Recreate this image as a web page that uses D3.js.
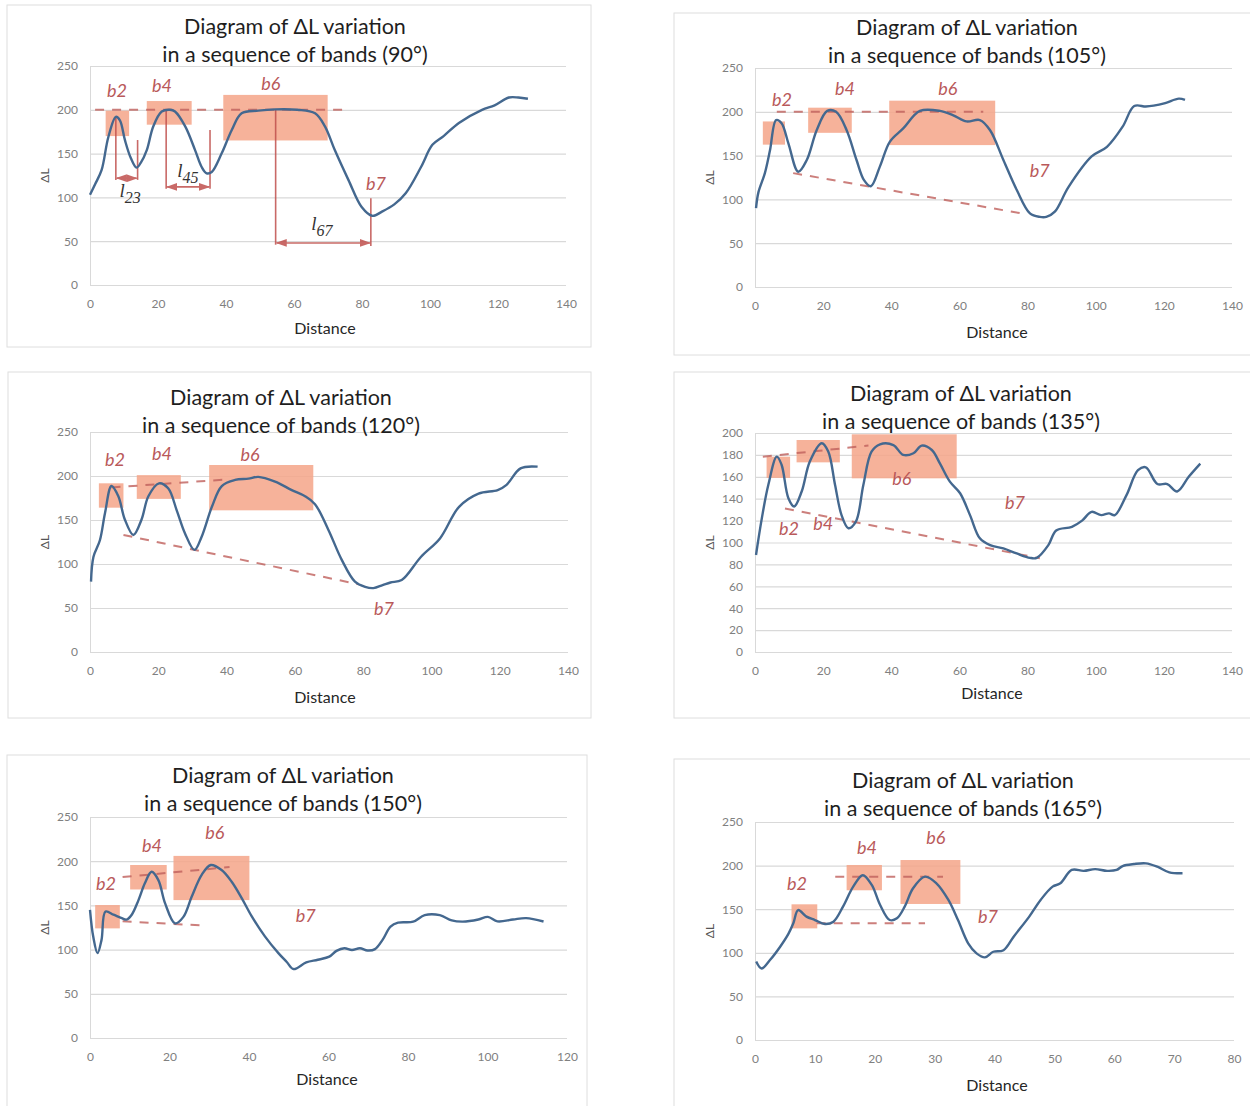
<!DOCTYPE html>
<html><head><meta charset="utf-8">
<script src="https://cdn.jsdelivr.net/npm/d3@7"></script>
<style>body{margin:0;background:#fff}svg{display:block}</style>
</head><body>
<svg id="c" width="1250" height="1106"></svg>
<script>
// ---------- DATA ----------
const angles = [90, 105, 120, 135, 150, 165];
const titleLine1 = "Diagram of ΔL variation";
const titleLine2 = a => `in a sequence of bands (${a}°)`;
const xLabel = "Distance";
const yLabel = "ΔL";

const xTicks140 = [0, 20, 40, 60, 80, 100, 120, 140];
const xTicks120 = [0, 20, 40, 60, 80, 100, 120];
const xTicks80 = [0, 10, 20, 30, 40, 50, 60, 70, 80];
const yTicks250 = [0, 50, 100, 150, 200, 250];
const yTicks200 = [0, 20, 40, 60, 80, 100, 120, 140, 160, 180, 200];

const curve90 = [[0,103],[1.5,115],[3.4,131],[5.4,169],[7.6,192],[8.8,188],[10.3,165],[12,145],[13.7,134],[15,140],[16.7,154],[18.6,181],[21.1,198],[23.5,200],[25,198],[28,181],[30.9,154],[32.8,135],[34.3,127.5],[35.8,129],[38.7,150],[41.7,177],[44.6,196],[49.5,199],[54.4,200.5],[61,200],[66.2,196],[69.1,181],[72,154],[76,120],[79.9,89],[83,79],[86,84],[89.5,92],[92.9,105],[97.4,135],[100.7,160],[104,170],[108.5,185],[115.3,200],[119,205],[123.2,214],[126,214],[128.8,212.6]];
const curve105 = [[0.3,90],[1,108],[2.9,130],[4.4,156],[6.2,190.6],[7.8,187],[9.8,164],[12.7,131.6],[15.2,145],[18.1,179],[21.2,201],[23.8,200],[26.9,179],[29.8,145],[32,122],[34,115],[36.7,138],[39.6,166],[43.5,181],[48.4,201],[54.3,201],[58.2,196],[62.1,189],[66,190.6],[69,179],[72.9,145],[76.8,111],[80.7,84],[83.6,80],[85.5,80],[88,86],[92,114],[98.8,149],[103.3,160],[107.9,183],[111.3,206.6],[114.7,206],[117,207],[120.4,210],[124.4,215],[126.2,213.5]];
const curve120 = [[0.3,80],[1,108],[2.9,127],[4.4,158],[6.3,188.6],[8.3,177],[10.2,150.6],[12.7,133],[15.1,150.6],[17.1,177],[20.2,191.7],[22.9,186],[25.4,161],[27.8,135],[30.6,116],[32.7,131],[35.7,165],[38.6,188.6],[42.5,195.5],[46.4,197],[49.3,199],[54.2,193.5],[59.1,184],[63,177],[65.9,168],[69.8,139],[73.7,105],[77.6,80],[80.6,74],[83,72.6],[85.7,76],[88,79],[91.3,81.8],[96.9,108],[102.5,129],[108.1,165],[113.8,180],[119.4,184],[122,190],[126.1,208.7],[131.1,210.6]];
const curve135 = [[0.3,88.6],[2,122],[3.9,152.5],[6.4,178.4],[7.8,171],[9.8,140.5],[11.5,132.9],[13.7,146.6],[16.1,174],[19.6,190.6],[21.5,183],[23.5,152.5],[25.4,125],[27.4,113],[29.6,119],[31.8,152.5],[34.2,183],[36.7,189.7],[40.6,189],[43.5,180],[46.5,181.5],[48.9,188.5],[51.9,184.5],[54.3,172],[57.2,155.6],[60.2,145],[63.1,125],[66,103.8],[69,97.6],[72.9,94.6],[76.8,90],[80.7,86],[82.7,86],[86.1,97.6],[88.4,111],[93,114.3],[96,120],[98.8,128],[101.6,125],[103.9,126.6],[105.6,125],[109,143],[112.4,166],[114.7,168.7],[118.1,153.4],[121,153.4],[123.9,146.6],[127.3,160],[130.7,172]];
const curve150 = [[0,145],[0.8,115],[1.9,96],[2.9,111],[3.9,143],[5.9,139.5],[8,135.6],[9.2,134],[10.5,139.5],[12.2,156],[13.8,175],[15.5,188],[17.2,178.6],[18.9,152.3],[21.4,129.6],[23.5,137],[25.6,160],[28.1,184.6],[30.4,195.7],[33.1,190],[35.6,177],[38.2,158],[40.7,137.6],[44,115],[47.4,96],[49.5,86],[51.2,78],[54.4,85.5],[57.3,88.5],[60.2,92],[62,98.6],[64,101.6],[65.9,99.6],[67.9,101.6],[69.8,99],[71.7,100.5],[73.6,111],[75.6,126],[77.5,130.5],[81.3,131.6],[84.2,139],[88,139],[91,133],[93.8,131.6],[97.7,134],[100.1,137],[102.5,132],[106.4,134],[109.7,135.6],[114.1,131.8]];
const curve165 = [[0.2,90],[1.1,82],[2.5,91.7],[4.2,107],[5.6,122],[6.4,133.8],[7.2,149],[8.6,141.5],[10,137.6],[11.7,133],[13.1,135.7],[14.7,152.9],[16.4,175.8],[18,189],[19.5,177.8],[20.9,154.8],[22.5,137.6],[23.7,139.5],[25,152.9],[26.4,174],[28.4,187.3],[30.3,179.7],[32.3,160.6],[33.9,137.6],[35.6,110.9],[37,99.4],[38.4,94.8],[39.8,101.2],[41.5,103],[43.2,118.5],[45.8,141.5],[47.7,160.6],[49.7,175.9],[51,179.7],[52.9,195],[54.9,194],[56.8,196],[58.8,194],[60.4,195],[61.4,199.5],[63.3,201.8],[65.3,202.6],[67.2,198.7],[69.2,192.3],[71.4,191.2]];

// band boxes: [x0, x1, y0, y1]
const boxes90  = [[4.6,11.5,170,199],[16.7,29.9,183,210],[39.2,69.9,165,217]];
const boxes105 = [[2.3,8.8,162.5,189],[15.6,28.4,176,204.7],[39.4,70.5,162,212.7]];
const boxes120 = [[2.6,9.8,164,191.7],[13.7,26.6,174,201],[34.9,65.4,161,212.5]];
const boxes135 = [[3.4,10.3,159,178.4],[12.2,24.9,173.2,193.6],[28.4,59.2,158.6,198.8]];
const boxes150 = [[1.3,7.5,124,150.4],[10.1,19.3,168,195.7],[21,40.1,156,206]];
const boxes165 = [[6.1,10.4,128,155.6],[15.3,21.2,171.7,200.7],[24.3,34.3,156,206.4]];

// dashed guide lines: [x0, y0, x1, y1]
const guides90  = [[1.5,200,76,200]];
const guides105 = [[6.4,200,67,200],[11.2,130,79.7,83]];
const guides120 = [[6.3,187,40,196],[9.8,133,78.6,77]];
const guides135 = [[2.3,178.4,33.3,188.5],[8.8,131,83.6,85.6]];
const guides150 = [[8.2,182,35.1,193.4],[8.2,132,27.9,127.4]];
const guides165 = [[13.4,187.3,31.4,187.3],[10.3,133.8,28.4,133.8]];

// band names and their anchor (data coords)
const bandNames = ["b2", "b4", "b6", "b7"];
const bandPos90  = [[7.9,221.5],[21.2,228],[53.2,229.5],[84.1,115.3]];
const bandPos105 = [[7.9,213.5],[26.4,226],[56.6,226],[83.6,132.4]];
const bandPos120 = [[7.3,218],[21.1,225],[46.9,224],[86.1,49]];
const bandPos135 = [[10,112.3],[20,117],[43.1,158],[76.3,136]];
const bandPos150 = [[4,174],[15.6,217],[31.4,232],[54.3,138]];
const bandPos165 = [[7,179],[18.7,221],[30.2,231.7],[38.9,141]];

// distance annotations of the 90° panel
const spanNames = ["23", "45", "67"];
const spanLeft  = [[7.6,192,120],[22.4,200,110],[54.6,200,46]];   // x, yTop, yBottom
const spanRight = [[14,165.5,120],[35.3,177,110],[82.6,99,44.5]];
const spanArrowY = [122, 112, 48];
const spanLabel = [[11.8,100],[28.8,123],[68.2,63]];

// ---------- DRAW ----------
const panels = [
 {curve:curve90, boxes:boxes90, guides:guides90, pos:bandPos90, xT:xTicks140, yT:yTicks250,
  l:90,r:566,t:66,b:285, fr:[7,5,584,342], tx:295, ty:26, dx:325, dy:328},
 {curve:curve105, boxes:boxes105, guides:guides105, pos:bandPos105, xT:xTicks140, yT:yTicks250,
  l:755,r:1232,t:68,b:287, fr:[674,13,580,342], tx:967, ty:27, dx:997, dy:332},
 {curve:curve120, boxes:boxes120, guides:guides120, pos:bandPos120, xT:xTicks140, yT:yTicks250,
  l:90,r:568,t:432,b:652, fr:[8,372,583,346], tx:281, ty:397, dx:325, dy:697},
 {curve:curve135, boxes:boxes135, guides:guides135, pos:bandPos135, xT:xTicks140, yT:yTicks200,
  l:755,r:1232,t:433,b:652, fr:[674,372,580,346], tx:961, ty:393, dx:992, dy:693},
 {curve:curve150, boxes:boxes150, guides:guides150, pos:bandPos150, xT:xTicks120, yT:yTicks250,
  l:90,r:567,t:817,b:1038, fr:[7,755,580,355], tx:283, ty:775, dx:327, dy:1079},
 {curve:curve165, boxes:boxes165, guides:guides165, pos:bandPos165, xT:xTicks80, yT:yTicks250,
  l:755,r:1234,t:822,b:1040, fr:[674,759,580,350], tx:963, ty:780, dx:997, dy:1085},
];

const FONT = "Lato, 'Open Sans', sans-serif";
const RED = "#c0504d";
const svg = d3.select("#c");
svg.append("rect").attr("width",1250).attr("height",1106).attr("fill","#fff");

const defs = svg.append("defs");
defs.append("marker").attr("id","arr").attr("viewBox","0 0 10 10")
  .attr("refX",9).attr("refY",5).attr("markerWidth",7).attr("markerHeight",7)
  .attr("orient","auto-start-reverse")
  .append("path").attr("d","M0,1.5 L10,5 L0,8.5 z").attr("fill",RED);

panels.forEach((p, i) => {
  const g = svg.append("g");
  g.append("rect").attr("x",p.fr[0]).attr("y",p.fr[1]).attr("width",p.fr[2]).attr("height",p.fr[3])
    .attr("fill","#fff").attr("stroke","#dedede").attr("stroke-width",1);

  const x = d3.scaleLinear().domain([0, d3.max(p.xT)]).range([p.l, p.r]);
  const y = d3.scaleLinear().domain([0, d3.max(p.yT)]).range([p.b, p.t]);

  // y axis with gridlines
  const ya = g.append("g").attr("transform",`translate(${p.l},0)`)
    .call(d3.axisLeft(y).tickValues(p.yT).tickSize(-(p.r - p.l)).tickPadding(12));
  ya.select(".domain").attr("stroke","#d9d9d9");
  ya.selectAll(".tick line").attr("stroke","#d9d9d9").attr("stroke-width",1.2);
  ya.selectAll(".tick text").attr("fill","#808080").style("font-family",FONT).style("font-size","12px");

  const xa = g.append("g").attr("transform",`translate(0,${p.b})`)
    .call(d3.axisBottom(x).tickValues(p.xT).tickSize(0).tickPadding(14));
  xa.select(".domain").remove();
  xa.selectAll(".tick text").attr("fill","#808080").style("font-family",FONT).style("font-size","12px");

  // band boxes
  g.selectAll("rect.box").data(p.boxes).enter().append("rect").attr("class","box")
    .attr("x", d => x(d[0])).attr("width", d => x(d[1]) - x(d[0]))
    .attr("y", d => y(d[3])).attr("height", d => y(d[2]) - y(d[3]))
    .attr("fill","#f5a488").attr("opacity",0.85);

  // dashed guides
  g.selectAll("line.guide").data(p.guides).enter().append("line").attr("class","guide")
    .attr("x1", d => x(d[0])).attr("y1", d => y(d[1]))
    .attr("x2", d => x(d[2])).attr("y2", d => y(d[3]))
    .attr("stroke","#c0605c").attr("stroke-width",2).attr("stroke-dasharray","9,8").attr("opacity",0.8);

  // 90° span annotations
  if (i === 0) {
    spanLeft.forEach((s, k) => {
      g.append("line").attr("x1",x(s[0])).attr("x2",x(s[0])).attr("y1",y(s[1])).attr("y2",y(s[2]))
        .attr("stroke",RED).attr("stroke-width",1.6).attr("opacity",0.85);
      const s2 = spanRight[k];
      g.append("line").attr("x1",x(s2[0])).attr("x2",x(s2[0])).attr("y1",y(s2[1])).attr("y2",y(s2[2]))
        .attr("stroke",RED).attr("stroke-width",1.6).attr("opacity",0.85);
      g.append("line").attr("x1",x(s[0])+1).attr("x2",x(s2[0])-1).attr("y1",y(spanArrowY[k])).attr("y2",y(spanArrowY[k]))
        .attr("stroke",RED).attr("stroke-width",1.6).attr("opacity",0.85)
        .attr("marker-start","url(#arr)").attr("marker-end","url(#arr)");
    });
  }

  // curve
  g.append("path").datum(p.curve)
    .attr("d", d3.line().x(d => x(d[0])).y(d => y(d[1])).curve(d3.curveCatmullRom.alpha(0.5)))
    .attr("fill","none").attr("stroke","#44688f").attr("stroke-width",2.4).attr("stroke-linejoin","round");

  if (i === 0) {
    spanLabel.forEach((s, k) => {
      const t = g.append("text").attr("x",x(s[0])).attr("y",y(s[1]))
        .attr("text-anchor","middle").attr("fill","#333")
        .style("font-family","'Liberation Serif', serif").style("font-style","italic").style("font-size","19px");
      t.append("tspan").text("l");
      t.append("tspan").attr("dy",6).style("font-size","16px").text(spanNames[k]);
    });
  }

  // band labels
  g.selectAll("text.band").data(p.pos).enter().append("text").attr("class","band")
    .attr("x", d => x(d[0])).attr("y", d => y(d[1])).attr("dy","0.35em")
    .attr("text-anchor","middle").attr("fill","#b9595a")
    .style("font-family",FONT).style("font-style","italic").style("font-size","18px")
    .text((d, k) => bandNames[k]);

  // titles
  g.append("text").attr("x",p.tx).attr("y",p.ty).attr("dy","0.35em").attr("text-anchor","middle")
    .attr("fill","#1e1e1e").style("font-family",FONT).style("font-size","21.5px").text(titleLine1);
  g.append("text").attr("x",p.tx).attr("y",p.ty + 28).attr("dy","0.35em").attr("text-anchor","middle")
    .attr("fill","#1e1e1e").style("font-family",FONT).style("font-size","21.5px").text(titleLine2(angles[i]));

  g.append("text").attr("x",p.dx).attr("y",p.dy).attr("dy","0.35em").attr("text-anchor","middle")
    .attr("fill","#262626").style("font-family",FONT).style("font-size","16px").text(xLabel);
  g.append("text").attr("transform",`translate(${p.l - 45},${(p.t + p.b) / 2}) rotate(-90)`)
    .attr("dy","0.35em").attr("text-anchor","middle")
    .attr("fill","#555").style("font-family",FONT).style("font-size","12px").text(yLabel);
});
</script>
</body></html>
